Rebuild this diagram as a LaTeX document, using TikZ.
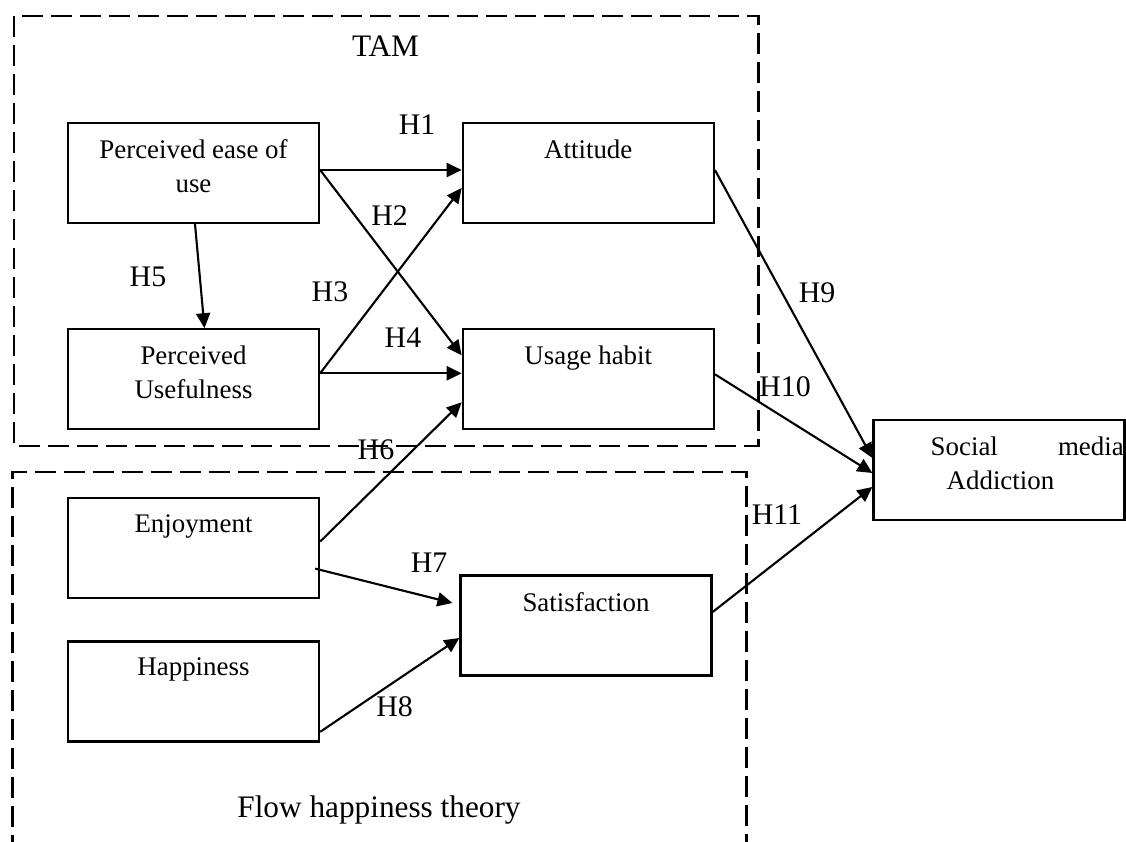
\documentclass[tikz,border=0pt]{standalone}
\usepackage{fontspec}
\setmainfont{Liberation Serif}
\usepackage{tikz}
\usetikzlibrary{arrows.meta, positioning}
\tikzset{
	construct/.style={
		rectangle,
		minimum width=5.02cm,
		minimum height=2cm,
		draw=black,
		line width=1.3pt
	},
	boxtext/.style={
		anchor=north,
		yshift=-0.35cm,
		inner sep=0pt,
		align=center,
		font=\fontsize{15.3}{19.3}\selectfont
	},
	hyp/.style={
		inner sep=0pt,
		font=\fontsize{17}{20}\selectfont
	},
	theorytitle/.style={
		inner sep=0pt,
		font=\fontsize{17.8}{21}\selectfont
	},
	theory/.style={
		line width=1.7pt,
		dash pattern=on 0.42cm off 0.16cm
	},
	arrow/.style={line width=1.2pt,-{Triangle[length=8.5pt,width=8pt]}}
}

\begin{document}
\begin{tikzpicture}
				\useasboundingbox (0,0) rectangle (22.52,16.82);
				\draw [theory] (0.28,16.5) rectangle (15.17,7.9);
				\draw [theory] (0.25,-0.3) -- (0.25,7.38) -- (14.92,7.38) -- (14.92,-0.3);
				\node (tam) [theorytitle] at (7.71,15.9) {TAM};
				\node (flow) [theorytitle, anchor=base] at (7.58,0.48) {Flow happiness theory};
				
				\node (ease) [construct, label={[boxtext]north:{Perceived ease of\\use}}] at (3.87,13.36) {};
				\node (attitude) [construct, right=2.83cm of ease, label={[boxtext]north:Attitude}] {};
				\node (useful) [construct, below=2.08cm of ease, label={[boxtext]north:{Perceived\\Usefulness}}] {};
				\node (habit) [construct, right=2.83cm of useful, label={[boxtext]north:Usage habit}] {};
				\node (enjoy) [construct, below=1.33cm of useful, label={[boxtext]north:Enjoyment}] {};
				\node (happy) [construct, below=0.82cm of enjoy, label={[boxtext]north:Happiness}] {};
				\node (satis) [construct, label={[boxtext]north:Satisfaction}] at (11.72,4.31) {};
				\node (addict) [construct, label={[boxtext, anchor=north west, xshift=1.16cm, align=left]north west:{\makebox[3.86cm]{Social\hfill media}\\\hspace*{0.32cm}Addiction}}] at (19.98,7.42) {};
				
				\draw [arrow] ([yshift=0.06cm]ease.east) -- ([yshift=0.06cm]attitude.west);
				\draw [arrow] ([yshift=0.06cm]ease.east) -- ([yshift=0.48cm]habit.west);
				\draw [arrow] ([yshift=0.12cm]useful.east) -- ([yshift=-0.3cm]attitude.west);
				\draw [arrow] ([yshift=0.12cm]useful.east) -- ([yshift=0.12cm]habit.west);
				\draw [arrow] ([xshift=0.03cm]ease.south) -- ([xshift=0.22cm]useful.north);
				\draw [arrow] ([yshift=0.13cm]enjoy.east) -- ([yshift=-0.46cm]habit.west);
				\draw [arrow] ([xshift=-0.1cm, yshift=-0.41cm]enjoy.east) -- ([xshift=-0.14cm, yshift=0.45cm]satis.west);
				\draw [arrow] ([yshift=-0.81cm]happy.east) -- ([yshift=-0.25cm]satis.west);
				\draw [arrow] ([yshift=0.06cm]attitude.east) -- ([yshift=0.24cm]addict.west);
				\draw [arrow] ([yshift=0.1cm]habit.east) -- ([yshift=-0.06cm]addict.west);
				\draw [arrow] ([yshift=0.27cm]satis.east) -- ([yshift=-0.34cm]addict.west);
				
				\node (h1) [hyp] at (8.34,14.32) {H1};
				\node (h2) [hyp] at (7.79,12.5) {H2};
				\node (h3) [hyp] at (6.6,10.98) {H3};
				\node (h4) [hyp] at (8.06,10.06) {H4};
				\node (h5) [hyp] at (2.96,11.28) {H5};
				\node (h6) [hyp] at (7.52,7.82) {H6};
				\node (h7) [hyp] at (8.58,5.56) {H7};
				\node (h8) [hyp] at (7.89,2.68) {H8};
				\node (h9) [hyp] at (16.34,10.96) {H9};
				\node (h10) [hyp] at (15.7,9.08) {H10};
				\node (h11) [hyp] at (15.54,6.52) {H11};
			\end{tikzpicture}
\end{document}
